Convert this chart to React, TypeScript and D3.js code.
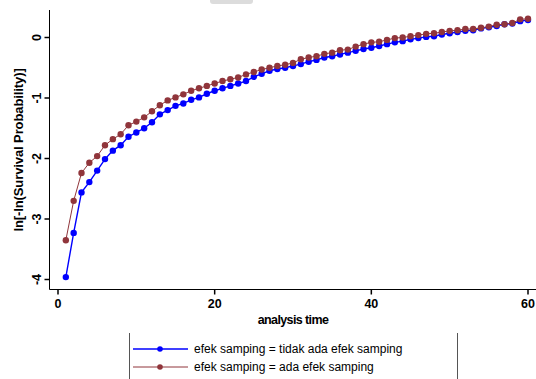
import React from 'react';
import * as d3 from 'd3';

// analysis time points
const times = d3.range(1, 61);

// ln[-ln(S)] for efek samping = tidak ada efek samping
const tidakAda = [
  -3.96, -3.23, -2.56, -2.39, -2.2, -2.01, -1.87, -1.78, -1.64, -1.57,
  -1.5, -1.4, -1.27, -1.2, -1.13, -1.09, -1.03, -0.99, -0.93, -0.88,
  -0.84, -0.8, -0.76, -0.72, -0.65, -0.6, -0.55, -0.52, -0.5, -0.47,
  -0.44, -0.4, -0.37, -0.33, -0.31, -0.28, -0.25, -0.22, -0.19, -0.17,
  -0.14, -0.11, -0.08, -0.06, -0.03, -0.01, 0.01, 0.02, 0.05, 0.07,
  0.09, 0.11, 0.12, 0.15, 0.17, 0.19, 0.22, 0.23, 0.27, 0.29,
];

// ln[-ln(S)] for efek samping = ada efek samping
const ada = [
  -3.35, -2.7, -2.24, -2.07, -1.96, -1.78, -1.68, -1.6, -1.45, -1.39,
  -1.32, -1.22, -1.12, -1.04, -0.99, -0.94, -0.88, -0.84, -0.8, -0.76,
  -0.72, -0.69, -0.66, -0.61, -0.57, -0.53, -0.5, -0.47, -0.45, -0.42,
  -0.36, -0.33, -0.31, -0.27, -0.25, -0.21, -0.2, -0.15, -0.11, -0.08,
  -0.07, -0.04, -0.01, 0.0, 0.02, 0.04, 0.06, 0.07, 0.09, 0.11,
  0.12, 0.14, 0.14, 0.16, 0.18, 0.21, 0.22, 0.24, 0.3, 0.31,
];

const xTicks = [0, 20, 40, 60];
const yTicks = [-4, -3, -2, -1, 0];

const series = [
  { label: 'efek samping = tidak ada efek samping', values: tidakAda, color: '#0000ff', width: 1.4 },
  { label: 'efek samping = ada efek samping', values: ada, color: '#90353b', width: 1 },
];

const font = '"Liberation Sans", Arial, sans-serif';

const App = () => {
  const W = 536;
  const H = 379;
  const axisX = 49.5;
  const axisY = 289.5;

  const x = d3.scaleLinear().domain([0, 60]).range([58, 528]);
  const y = d3.scaleLinear().domain([-4, 0]).range([279.5, 37.5]);

  const line = d3
    .line<number>()
    .x((_, i) => x(times[i]))
    .y((d) => y(d));

  return (
    <svg width={W} height={H} style={{ position: 'absolute', left: 0, top: 0, background: '#fff' }} fontFamily={font}>
      <rect x={210} y={-4} width={43} height={8} rx={3} fill="#dcdcdc" />

      {/* series */}
      {series.map((s) => (
        <g key={s.label}>
          <path d={line(s.values) ?? ''} fill="none" stroke={s.color} strokeWidth={s.width} />
          {s.values.map((v, i) => (
            <circle key={i} cx={x(times[i])} cy={y(v)} r={3.2} fill={s.color} />
          ))}
        </g>
      ))}

      {/* axes */}
      <line x1={axisX} x2={axisX} y1={10} y2={axisY} stroke="#000" strokeWidth={1} />
      <line x1={axisX} x2={W} y1={axisY} y2={axisY} stroke="#000" strokeWidth={1} />

      {yTicks.map((t) => (
        <g key={t}>
          <line x1={axisX - 5} x2={axisX} y1={y(t)} y2={y(t)} stroke="#000" strokeWidth={1.5} />
          <text
            transform={`translate(${axisX - 9},${y(t)}) rotate(-90)`}
            textAnchor="middle"
            fontSize={12.5}
            fontWeight="bold"
          >
            {t}
          </text>
        </g>
      ))}

      {xTicks.map((t) => (
        <g key={t}>
          <line x1={x(t)} x2={x(t)} y1={axisY} y2={axisY + 5} stroke="#000" strokeWidth={1.5} />
          <text x={x(t)} y={axisY + 18} textAnchor="middle" fontSize={12.5} fontWeight="bold">
            {t}
          </text>
        </g>
      ))}

      <text x={293} y={324} textAnchor="middle" fontSize={12.5} fontWeight="bold" letterSpacing={-0.6}>
        analysis time
      </text>
      <text
        transform={`translate(23,150) rotate(-90)`}
        textAnchor="middle"
        fontSize={13}
        fontWeight="bold"
        letterSpacing={-0.1}
      >
        ln[-ln(Survival Probability)]
      </text>

      {/* legend */}
      <line x1={129.5} x2={129.5} y1={333} y2={379} stroke="#555" strokeWidth={1} />
      <line x1={457.5} x2={457.5} y1={333} y2={379} stroke="#555" strokeWidth={1} />
      {series.map((s, i) => {
        const ly = 349 + i * 18;
        return (
          <g key={s.label}>
            <line x1={133} x2={188} y1={ly} y2={ly} stroke={s.color} strokeWidth={s.width} />
            <circle cx={160} cy={ly} r={2.8} fill={s.color} />
            <text x={194} y={ly + 4} fontSize={12}>
              {s.label}
            </text>
          </g>
        );
      })}
    </svg>
  );
};

export default App;
